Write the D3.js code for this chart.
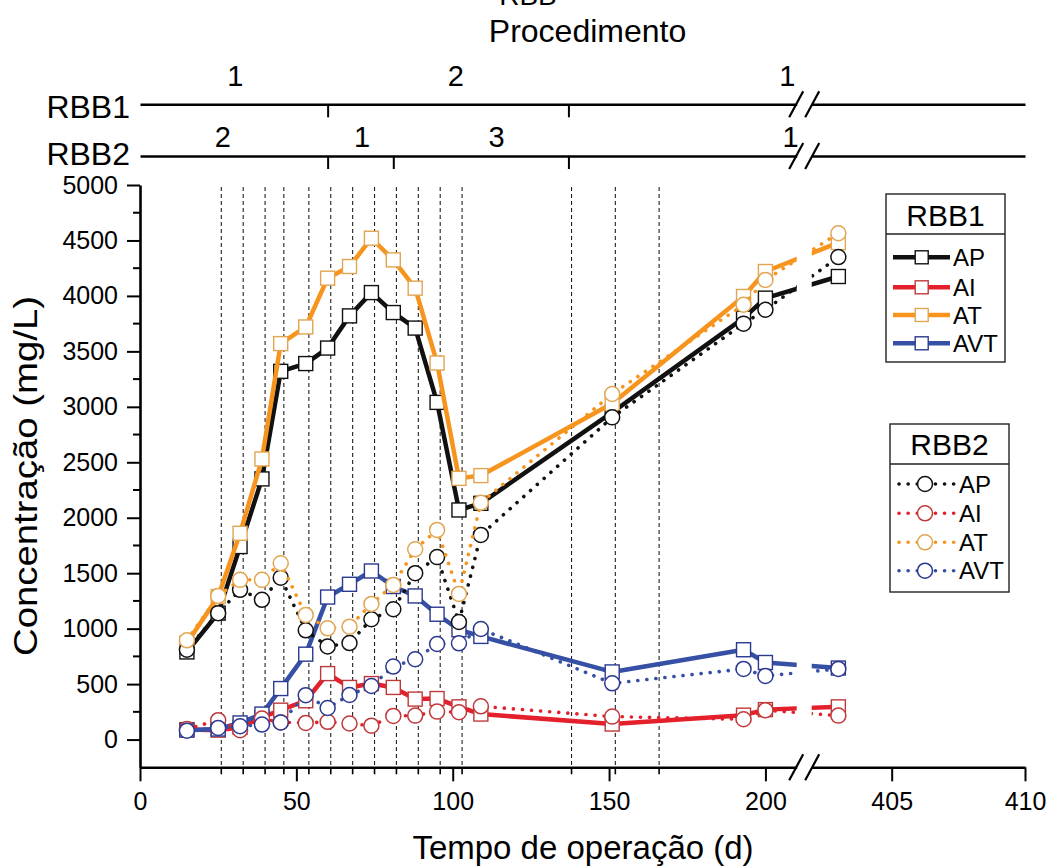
<!DOCTYPE html>
<html>
<head>
<meta charset="utf-8">
<script src="https://cdn.jsdelivr.net/npm/d3@7"></script>
<style>
  html, body { margin: 0; padding: 0; background: #fff; }
  svg { display: block; font-family: "Liberation Sans", Arial, Helvetica, sans-serif; }
</style>
</head>
<body>
<svg id="chart" width="1051" height="868"></svg>
<script>
// Sampling days (operation time, d)
const days = [15, 25, 32, 39, 45, 53, 60, 67, 74, 81, 88, 95, 102, 109, 151, 193, 200, 403];

// RBB1 (solid lines, square markers), mg/L
const rbb1AP  = [790, 1140, 1740, 2350, 3320, 3390, 3530, 3820, 4030, 3850, 3710, 3040, 2070, 2130, 2950, 3800, 3980, 4175];
const rbb1AI  = [90, 85, 110, 200, 265, 350, 595, 470, 505, 470, 365, 370, 295, 230, 140, 220, 270, 295];
const rbb1AT  = [870, 1290, 1860, 2530, 3570, 3720, 4160, 4265, 4520, 4325, 4070, 3395, 2355, 2380, 3030, 3995, 4220, 4480];
const rbb1AVT = [85, 95, 150, 230, 460, 770, 1285, 1400, 1520, 1380, 1295, 1130, 990, 930, 610, 810, 695, 645];

// RBB2 (dotted lines, circle markers), mg/L
const rbb2AP  = [810, 1140, 1350, 1260, 1460, 985, 840, 870, 1085, 1175, 1500, 1645, 1060, 1845, 2905, 3750, 3875, 4350];
const rbb2AI  = [95, 175, 85, 190, 155, 150, 160, 145, 125, 213, 216, 252, 246, 300, 207, 183, 265, 216];
const rbb2AT  = [895, 1295, 1440, 1440, 1590, 1124, 1003, 1018, 1223, 1394, 1716, 1890, 1313, 2136, 3116, 3920, 4144, 4565];
const rbb2AVT = [80, 105, 120, 135, 155, 400, 285, 402, 483, 658, 724, 862, 868, 997, 507, 637, 574, 637];

// Series names and colours
const seriesNames = ["AP", "AI", "AT", "AVT"];
const lineColors   = ["#111111", "#e3202b", "#f7941d", "#3550a5"];
const markerColors = ["#111111", "#c0393a", "#e2a552", "#2b3990"];

// Vertical reference lines (days)
const refDays = [26, 33, 40, 46, 54, 61, 68, 75, 82, 89, 96, 103, 138, 152, 166];

// Axis ticks
const xTicksLeft = [0, 50, 100, 150, 200];
const xTicksRight = [405, 410];
const yTicks = [0, 500, 1000, 1500, 2000, 2500, 3000, 3500, 4000, 4500, 5000];
const yMinorTicks = [250, 750, 1250, 1750, 2250, 2750, 3250, 3750, 4250, 4750];

// Procedure bands (top timelines)
const proc1Bounds = [60, 137];
const proc1Labels = [{d: 30.5, t: "1"}, {d: 101, t: "2"}, {d: 207, t: "1"}];
const proc2Bounds = [60, 81, 137];
const proc2Labels = [{d: 26.5, t: "2"}, {d: 71, t: "1"}, {d: 114, t: "3"}, {d: 208, t: "1"}];

const svg = d3.select("#chart");
const FONT = '"Liberation Sans", Arial, Helvetica, sans-serif';

// Broken x scale: 0–210 d on the left, 402–410 d on the right
const xLeft  = d3.scaleLinear().domain([0, 210]).range([140, 796.7]);
const xRight = d3.scaleLinear().domain([402, 410]).range([811.7, 1025]);
const x = d => (d <= 300 ? xLeft(d) : xRight(d));
const y = d3.scaleLinear().domain([-250, 5000]).range([767.3, 185]);

// ----- vertical dashed reference lines -----
svg.append("g").selectAll("line").data(refDays).join("line")
  .attr("x1", d => xLeft(d)).attr("x2", d => xLeft(d))
  .attr("y1", 187).attr("y2", y(-250))
  .attr("stroke", "#222").attr("stroke-width", 1.1)
  .attr("stroke-dasharray", "4,3");

// ----- data -----
const clip = svg.append("defs").append("clipPath").attr("id", "brk");
clip.append("rect").attr("x", 0).attr("y", 0).attr("width", xLeft(210)).attr("height", 868);
clip.append("rect").attr("x", xRight(402)).attr("y", 0).attr("width", 1051 - xRight(402)).attr("height", 868);

const dataG = svg.append("g").attr("clip-path", "url(#brk)");
const lineGen = d3.line().x(p => x(p[0])).y(p => y(p[1]));

const rbb1 = [rbb1AP, rbb1AI, rbb1AT, rbb1AVT];
const rbb2 = [rbb2AP, rbb2AI, rbb2AT, rbb2AVT];

function drawSeries(vals, i, dotted) {
  const pts = days.map((d, k) => [d, vals[k]]);
  const path = dataG.append("path").attr("d", lineGen(pts))
    .attr("fill", "none").attr("stroke", lineColors[i])
    .attr("stroke-linejoin", "round");
  if (dotted) {
    path.attr("stroke-width", 3.6).attr("stroke-dasharray", "0.1 9").attr("stroke-linecap", "round");
  } else {
    path.attr("stroke-width", 4.5);
  }
  const g = dataG.append("g");
  if (dotted) {
    g.selectAll("circle").data(pts).join("circle")
      .attr("cx", p => x(p[0])).attr("cy", p => y(p[1])).attr("r", 7.5)
      .attr("fill", "#fff").attr("stroke", markerColors[i]).attr("stroke-width", 1.5);
  } else {
    g.selectAll("rect").data(pts).join("rect")
      .attr("x", p => x(p[0]) - 7).attr("y", p => y(p[1]) - 7)
      .attr("width", 14).attr("height", 14)
      .attr("fill", "#fff").attr("stroke", markerColors[i]).attr("stroke-width", 1.4);
  }
}
rbb1.forEach((v, i) => drawSeries(v, i, false));
rbb2.forEach((v, i) => drawSeries(v, i, true));

// ----- axes -----
const axisColor = "#000";
function styleAxis(g) {
  g.selectAll("path.domain").attr("stroke", axisColor).attr("stroke-width", 2.6);
  g.selectAll(".tick line").attr("stroke", axisColor).attr("stroke-width", 2);
  g.selectAll(".tick text").attr("fill", "#000").attr("font-family", FONT).attr("font-size", 25);
}

// x axis (two segments)
const xAxL = svg.append("g").attr("transform", `translate(0,${y(-250)})`)
  .call(d3.axisBottom(xLeft).tickValues(xTicksLeft).tickSize(14).tickSizeOuter(0).tickPadding(11));
const xAxR = svg.append("g").attr("transform", `translate(0,${y(-250)})`)
  .call(d3.axisBottom(xRight).tickValues(xTicksRight).tickSize(14).tickSizeOuter(0).tickPadding(11));
[xAxL, xAxR].forEach(styleAxis);
// small ticks at the reference days
svg.append("g").selectAll("line").data(refDays).join("line")
  .attr("x1", d => xLeft(d)).attr("x2", d => xLeft(d))
  .attr("y1", y(-250)).attr("y2", y(-250) + 7)
  .attr("stroke", "#000").attr("stroke-width", 1.6);

// y axis
const yAx = svg.append("g").attr("transform", `translate(140,0)`)
  .call(d3.axisLeft(y).tickValues(yTicks).tickFormat(d3.format("d"))
    .tickSize(13).tickSizeOuter(0).tickPadding(9));
styleAxis(yAx);
svg.append("g").selectAll("line").data(yMinorTicks).join("line")
  .attr("x1", 140).attr("x2", 133)
  .attr("y1", d => y(d)).attr("y2", d => y(d))
  .attr("stroke", "#000").attr("stroke-width", 2);

// break marks
function breakMarks(yy) {
  const g = svg.append("g");
  [xLeft(210) - 0.5, xRight(402) + 0.5].forEach(cx => {
    g.append("line").attr("x1", cx - 7).attr("y1", yy + 13).attr("x2", cx + 7).attr("y2", yy - 13)
      .attr("stroke", "#000").attr("stroke-width", 2.2);
  });
}
breakMarks(y(-250));

// ----- procedure timelines -----
function timeline(yy, bounds, labels, name, nameBase, labelBase) {
  const g1 = svg.append("g").attr("transform", `translate(0,${yy})`)
    .call(d3.axisBottom(xLeft).tickValues(bounds).tickSize(13).tickSizeOuter(0).tickFormat(""));
  const g2 = svg.append("g").attr("transform", `translate(0,${yy})`)
    .call(d3.axisBottom(xRight).tickValues([]).tickSizeOuter(0).tickFormat(""));
  [g1, g2].forEach(g => {
    g.selectAll("path.domain").attr("stroke", "#000").attr("stroke-width", 2.4);
    g.selectAll(".tick line").attr("stroke", "#000").attr("stroke-width", 2);
  });
  breakMarks(yy);
  svg.append("text").attr("x", 130).attr("y", nameBase)
    .attr("text-anchor", "end").attr("font-size", 32).attr("font-family", FONT).text(name);
  svg.append("g").selectAll("text").data(labels).join("text")
    .attr("x", d => xLeft(d.d)).attr("y", labelBase)
    .attr("text-anchor", "middle").attr("font-size", 29).attr("font-family", FONT)
    .text(d => d.t);
}
timeline(104.3, proc1Bounds, proc1Labels, "RBB1", 117.5, 86);
timeline(156, proc2Bounds, proc2Labels, "RBB2", 165, 146.5);

// titles
svg.append("text").attr("x", 528).attr("y", 5).attr("text-anchor", "middle")
  .attr("font-size", 28).attr("font-family", FONT).text("RBB");
svg.append("text").attr("x", 587.5).attr("y", 41.7).attr("text-anchor", "middle")
  .attr("font-size", 32).attr("font-family", FONT).text("Procedimento");
svg.append("text").attr("x", 583).attr("y", 859).attr("text-anchor", "middle")
  .attr("font-size", 33).attr("font-family", FONT).text("Tempo de operação (d)");
svg.append("text").attr("transform", "translate(37,476) rotate(-90)").attr("text-anchor", "middle")
  .attr("font-size", 33).attr("font-family", FONT)
  .attr("textLength", 360).attr("lengthAdjust", "spacingAndGlyphs")
  .text("Concentração (mg/L)");

// ----- legends -----
function legend(box, title, dotted) {
  const g = svg.append("g");
  g.append("rect").attr("x", box.x0).attr("y", box.y0)
    .attr("width", box.x1 - box.x0).attr("height", box.y1 - box.y0)
    .attr("fill", "#fff").attr("stroke", "#222").attr("stroke-width", 1.4);
  g.append("line").attr("x1", box.x0).attr("x2", box.x1).attr("y1", box.sep).attr("y2", box.sep)
    .attr("stroke", "#222").attr("stroke-width", 1.4);
  g.append("text").attr("x", (box.x0 + box.x1) / 2).attr("y", box.titleBase)
    .attr("text-anchor", "middle").attr("font-size", 30).attr("font-family", FONT).text(title);
  seriesNames.forEach((nm, i) => {
    const yy = box.rows[i];
    const ln = g.append("line").attr("x1", box.lx0).attr("x2", box.lx1).attr("y1", yy).attr("y2", yy)
      .attr("stroke", lineColors[i]);
    if (dotted) {
      ln.attr("stroke-width", 3.6).attr("stroke-dasharray", "0.1 9").attr("stroke-linecap", "round");
      g.append("circle").attr("cx", box.mx).attr("cy", yy).attr("r", 7.5)
        .attr("fill", "#fff").attr("stroke", markerColors[i]).attr("stroke-width", 1.5);
    } else {
      ln.attr("stroke-width", 4.5);
      g.append("rect").attr("x", box.mx - 6.5).attr("y", yy - 6.5).attr("width", 13).attr("height", 13)
        .attr("fill", "#fff").attr("stroke", markerColors[i]).attr("stroke-width", 1.4);
    }
    g.append("text").attr("x", box.tx).attr("y", yy + 8.5)
      .attr("font-size", 24).attr("font-family", FONT).text(nm);
  });
}
legend({x0: 886, x1: 1005, y0: 194, y1: 362, sep: 234, titleBase: 226,
        rows: [257.3, 287.3, 315, 343.3], lx0: 893, lx1: 950, mx: 921.7, tx: 953}, "RBB1", false);
legend({x0: 890, x1: 1009, y0: 424, y1: 592, sep: 464, titleBase: 455,
        rows: [484, 513.3, 542.3, 570.7], lx0: 899, lx1: 954, mx: 925, tx: 959}, "RBB2", true);
</script>
</body>
</html>
